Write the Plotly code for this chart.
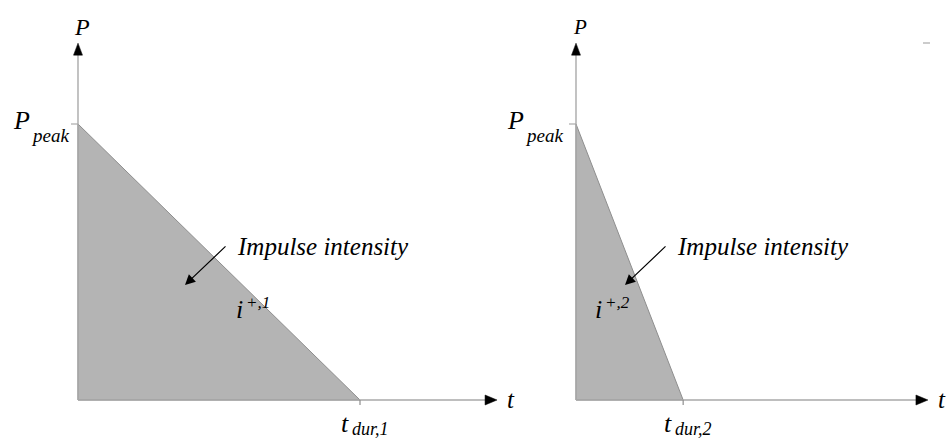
import plotly.graph_objects as go

W, H = 946, 441

# ---- data: two triangular pressure pulses with equal peak, different durations
panels = ["1", "2"]
p_peak = [1.0, 1.0]
t_dur = [1.0, 0.38]
t_axis_end = [1.486, 1.248]     # length of the time axis arrow
p_axis_end = [1.293, 1.293]     # length of the pressure axis arrow
t_dur_subs = ["dur,1", "dur,2"]
impulse_sups = ["+,1", "+,2"]

# ---- layout geometry (pixels)
ORIGIN_X = [78, 576]
ORIGIN_Y = 400
PX_T = 282.0
PX_P = 276.0
DOMAINS = [(0, 545), (470, 946)]

FONT = "Liberation Serif"
AXIS_GREY = "#a9a9a9"

fig = go.Figure()
annotations = []


def ax_names(k):
    return ("x", "y") if k == 0 else ("x2", "y2")


for k in range(2):
    xa, ya = ax_names(k)
    P, T = p_peak[k], t_dur[k]
    te, pe = t_axis_end[k], p_axis_end[k]
    dx, dy = 1.0 / PX_T, 1.0 / PX_P

    # shaded impulse area
    fig.add_trace(go.Scatter(
        x=[0, 0, T, 0], y=[0, P, 0, 0], xaxis=xa, yaxis=ya,
        mode="lines", fill="toself", fillcolor="#b4b4b4",
        line=dict(color="#8e8e8e", width=1), hoverinfo="skip"))

    # axis shafts
    fig.add_trace(go.Scatter(
        x=[0, te - 10 * dx], y=[0, 0], xaxis=xa, yaxis=ya, mode="lines",
        line=dict(color=AXIS_GREY, width=1.6), hoverinfo="skip"))
    fig.add_trace(go.Scatter(
        x=[0, 0], y=[0, pe - 10 * dy], xaxis=xa, yaxis=ya, mode="lines",
        line=dict(color=AXIS_GREY, width=1.4), hoverinfo="skip"))

    # arrow heads
    fig.add_trace(go.Scatter(
        x=[te, te - 12 * dx, te - 12 * dx, te],
        y=[0, 5 * dy, -5 * dy, 0], xaxis=xa, yaxis=ya, mode="lines",
        fill="toself", fillcolor="black", line=dict(color="black", width=0.5),
        hoverinfo="skip"))
    fig.add_trace(go.Scatter(
        x=[0, -4.5 * dx, 4.5 * dx, 0],
        y=[pe, pe - 12 * dy, pe - 12 * dy, pe], xaxis=xa, yaxis=ya,
        mode="lines", fill="toself", fillcolor="black",
        line=dict(color="black", width=0.5), hoverinfo="skip"))

    # ticks at P_peak and t_dur
    fig.add_trace(go.Scatter(
        x=[-7 * dx, 0], y=[P, P], xaxis=xa, yaxis=ya, mode="lines",
        line=dict(color=AXIS_GREY, width=1.2), hoverinfo="skip"))
    fig.add_trace(go.Scatter(
        x=[T, T], y=[0, -5 * dy], xaxis=xa, yaxis=ya, mode="lines",
        line=dict(color="#8e8e8e", width=1.2), hoverinfo="skip"))

    def label(text, x, y, size, xs=0, ys=0, xanchor="center",
              yanchor="middle"):
        annotations.append(dict(
            text="<i>%s</i>" % text, x=x, y=y, xref=xa, yref=ya,
            xanchor=xanchor, yanchor=yanchor, xshift=xs, yshift=ys,
            showarrow=False, font=dict(family=FONT, size=size, color="black")))

    # axis names
    label("P", 0, pe, 24 if k == 0 else 21, xs=4, ys=16)
    label("t", te, 0, 25, xs=14, ys=1)

    # P_peak
    pxs = [-57, -61][k]
    label("P", 0, P, 26, xs=pxs, ys=4)
    label("peak", 0, P, 19, xs=pxs + 29, ys=-11)

    # t_dur
    label("t", T, 0, 26, xs=-15, ys=-23)
    label(t_dur_subs[k], T, 0, 18, xs=10, ys=-(H - ORIGIN_Y),
          yanchor="bottom")

    # impulse intensity i^{+,k}
    ix = [239, 598][k]
    ox = ORIGIN_X[k]
    label("i", (ix - ox) * dx, (ORIGIN_Y - 309) * dy, 26)
    label(impulse_sups[k], (ix + 5 - ox) * dx, (ORIGIN_Y - 302) * dy, 17,
          xanchor="left")

    # "Impulse intensity" with pointer arrow
    tx = [235, 675][k]
    annotations.append(dict(
        text="<i>Impulse intensity</i>", x=(tx - ox) * dx,
        y=(ORIGIN_Y - 246) * dy, xref=xa, yref=ya, xanchor="left",
        yanchor="middle", showarrow=False,
        font=dict(family=FONT, size=25, color="black")))
    tip = [(185, 285), (625, 285)][k]
    annotations.append(dict(
        text="", x=(tip[0] - ox) * dx, y=(ORIGIN_Y - tip[1]) * dy,
        xref=xa, yref=ya, showarrow=True, ax=42, ay=-40,
        arrowhead=2, arrowsize=1.7, arrowwidth=1.2, arrowcolor="black"))


def xrange(k):
    d0, d1 = DOMAINS[k]
    return [(d0 - ORIGIN_X[k]) / PX_T, (d1 - ORIGIN_X[k]) / PX_T]


yr = [(ORIGIN_Y - H) / PX_P, ORIGIN_Y / PX_P]
hidden = dict(visible=False, showgrid=False, zeroline=False, fixedrange=True)

fig.update_layout(
    width=W, height=H, margin=dict(l=0, r=0, t=0, b=0),
    paper_bgcolor="white", plot_bgcolor="rgba(0,0,0,0)",
    showlegend=False,
    xaxis=dict(domain=[DOMAINS[0][0] / W, DOMAINS[0][1] / W],
               range=xrange(0), **hidden),
    xaxis2=dict(domain=[DOMAINS[1][0] / W, DOMAINS[1][1] / W],
                range=xrange(1), anchor="y2", **hidden),
    yaxis=dict(domain=[0, 1], range=yr, **hidden),
    yaxis2=dict(domain=[0, 1], range=yr, anchor="x2", **hidden),
    annotations=annotations,
    shapes=[dict(type="line", xref="paper", yref="paper",
                 x0=923 / W, x1=930 / W, y0=1 - 43 / H, y1=1 - 43 / H,
                 line=dict(color="#bbbbbb", width=1.5))],
)

fig.write_html("out.html")
